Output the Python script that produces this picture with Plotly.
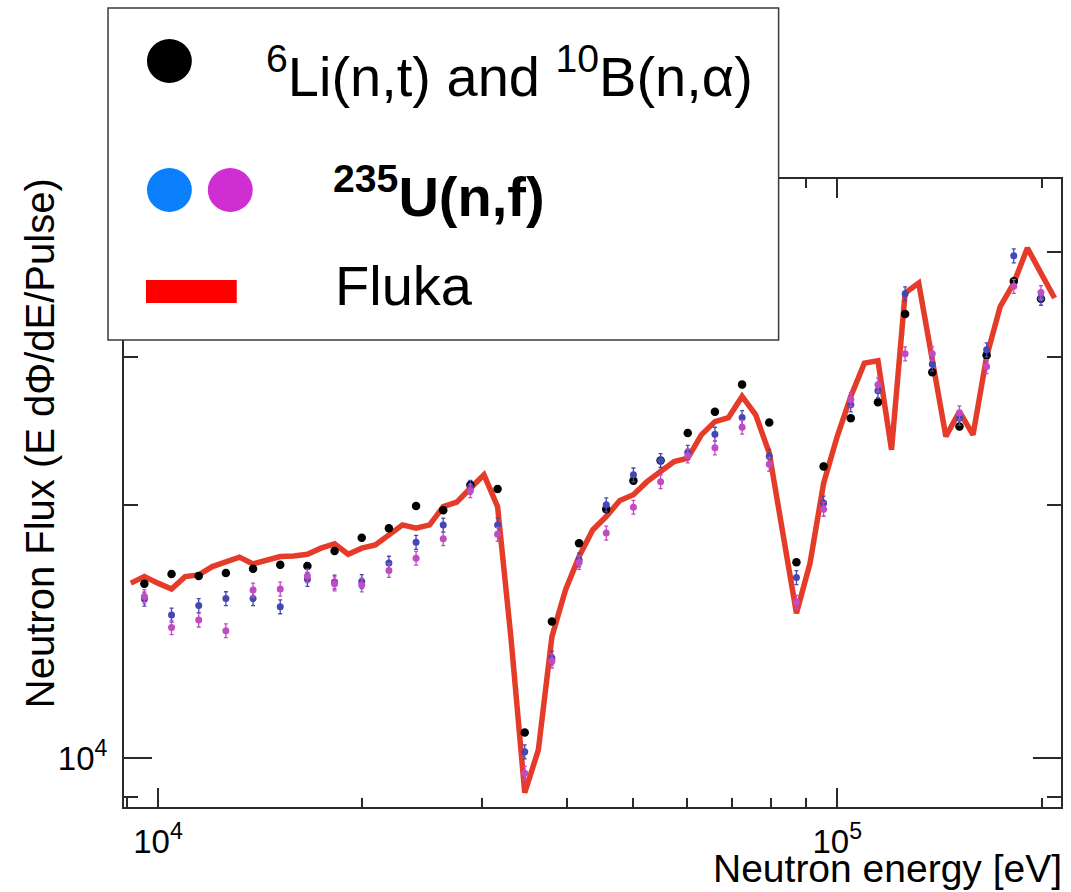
import plotly.graph_objects as go

# ---- measured flux, 25 bins per decade (bin centres in eV) ----
energy_bins = [9550, 10471, 11482, 12589, 13804, 15136, 16596, 18197, 19953, 21878,
               23988, 26303, 28840, 31623, 34674, 38019, 41687, 45709, 50119, 54954,
               60256, 66069, 72444, 79433, 87096, 95499, 104713, 114815, 125893, 138038,
               151356, 165959, 181970, 199526]

flux_li_b = [16120, 16560, 16470, 16600, 16800, 16980, 16930, 17640, 18290, 18770,
             19950, 19720, 21130, 20900, 10730, 14540, 18010, 19770, 21380, 22590,
             24360, 25810, 27810, 25070, 17100, 22230, 25360, 26500, 33730, 28760,
             24790, 30130, 36890, 35170]

flux_u235_a = [15460, 14800, 15190, 15480, 15480, 15140, 16320, 16200, 16220, 17060,
               18060, 18930, 21000, 18940, 10180, 13160, 17210, 20010, 21720, 22590,
               23110, 24280, 25410, 22860, 16400, 20110, 26310, 27340, 35650, 29410,
               25360, 30580, 39560, 35220]

flux_u235_b = [15570, 14300, 14600, 14180, 15850, 15890, 16470, 16120, 16070, 16720,
               17290, 18240, 20800, 18460, 9600, 13050, 17090, 18520, 19880, 21320,
               22880, 23390, 24750, 22360, 15330, 19770, 26690, 27790, 30250, 30250,
               25740, 29210, 36390, 35780]

# relative uncertainties (percent)
err_li_b_pct = 0.8
err_u235_pct = 1.9

# ---- FLUKA simulation, 50 points per decade ----
fluka_energy = [9120, 9550, 10000, 10471, 10965, 11482, 12023, 12589, 13183, 13804,
                14454, 15136, 15849, 16596, 17378, 18197, 19055, 19953, 20893, 21878,
                22909, 23988, 25119, 26303, 27542, 28840, 30200, 31623, 33113, 34674,
                36308, 38019, 39811, 41687, 43652, 45709, 47863, 50119, 52481, 54954,
                57544, 60256, 63096, 66069, 69183, 72444, 75858, 79433, 83176, 87096,
                91201, 95499, 100000, 104713, 109648, 114815, 120226, 125893, 131826, 138038,
                144544, 151356, 158489, 165959, 173780, 181970, 190546, 199526, 208930]

fluka_flux = [16150, 16440, 16150, 15890, 16440, 16520, 16900, 17130, 17340, 17020,
              17180, 17370, 17400, 17480, 17770, 17980, 17480, 17770, 17930, 18430,
              18940, 18770, 18940, 19910, 20160, 20940, 21720, 19910, 13820, 9100,
              10230, 13950, 15850, 17370, 18680, 19380, 20250, 20570, 21320, 21920,
              22530, 22740, 24230, 25130, 25410, 26920, 25600, 23050, 18680, 14870,
              17060, 21230, 24120, 26920, 29490, 29680, 23260, 35720, 36710, 29490,
              24120, 25830, 24230, 30030, 34430, 36710, 40410, 37730, 35240]

# axis ticks
x_major = [1e4, 1e5]
x_major_text = ["10<sup>4</sup>", "10<sup>5</sup>"]
x_minor = [9000, 20000, 30000, 40000, 50000, 60000, 70000, 80000, 90000, 200000]
y_major = [1e4]
y_major_text = ["10<sup>4</sup>"]
y_minor = [9000, 20000, 30000, 40000]

# legend labels
legend_li_b = "<sup>6</sup>Li(n,t) and <sup>10</sup>B(n,α)"
legend_u235 = "<b><sup>235</sup>U(n,f)</b>"
legend_fluka = "Fluka"

BLACK = "#000000"
BLUE = "#4348b4"
MAGENTA = "#c24bc4"
RED = "#e43c28"
FONT = "Liberation Sans, Arial, sans-serif"

W_FIG, H_FIG = 1071, 892
ML, MR, MT, MB = 124, 8, 179, 85
PW = W_FIG - ML - MR
PH = H_FIG - MT - MB


def px(x):
    return (x - ML) / PW


def py(y):
    return (MT + PH - y) / PH


fig = go.Figure()

fig.add_trace(go.Scatter(
    x=fluka_energy, y=fluka_flux, mode="lines",
    line=dict(color=RED, width=5.5), showlegend=False, hoverinfo="skip"))

fig.add_trace(go.Scatter(
    x=energy_bins, y=flux_li_b, mode="markers",
    marker=dict(color=BLACK, size=8.5),
    error_y=dict(type="percent", value=err_li_b_pct, color=BLACK, thickness=1.3, width=2),
    showlegend=False))

fig.add_trace(go.Scatter(
    x=energy_bins, y=flux_u235_a, mode="markers",
    marker=dict(color=BLUE, size=7),
    error_y=dict(type="percent", value=err_u235_pct, color=BLUE, thickness=1.3, width=2),
    showlegend=False))

fig.add_trace(go.Scatter(
    x=energy_bins, y=flux_u235_b, mode="markers",
    marker=dict(color=MAGENTA, size=7),
    error_y=dict(type="percent", value=err_u235_pct, color=MAGENTA, thickness=1.3, width=2),
    showlegend=False))

axis_common = dict(
    type="log", showgrid=False, zeroline=False,
    showline=True, linecolor="#2a2a2a", linewidth=2, mirror="ticks",
    ticks="inside", tickcolor="#2a2a2a", tickwidth=1.5,
    tickfont=dict(family=FONT, size=33, color="#000"),
)

fig.update_xaxes(
    **axis_common, range=[3.950, 5.3295],
    tickmode="array", tickvals=x_major, ticktext=x_major_text, ticklen=19,
    ticklabelstandoff=4,
    minor=dict(tickmode="array", tickvals=x_minor, ticks="inside", ticklen=9,
               tickcolor="#2a2a2a", tickwidth=1.5),
)
fig.update_yaxes(
    **axis_common, range=[3.9421, 4.6885],
    tickmode="array", tickvals=y_major, ticktext=y_major_text, ticklen=28,
    ticklabelstandoff=8,
    minor=dict(tickmode="array", tickvals=y_minor, ticks="inside", ticklen=14,
               tickcolor="#2a2a2a", tickwidth=1.5),
)

annotations = [
    dict(text="Neutron energy [eV]", x=px(1066), y=py(868), xanchor="right", yanchor="middle",
         font=dict(family=FONT, size=39, color="#000")),
    dict(text="Neutron Flux (E dΦ/dE/Pulse)", x=px(40), y=py(443), xanchor="center",
         yanchor="middle", textangle=-90, font=dict(family=FONT, size=40, color="#000")),
    dict(text=legend_li_b, x=px(264), y=py(72), xanchor="left", yanchor="middle",
         font=dict(family=FONT, size=56, color="#000")),
    dict(text=legend_u235, x=px(331), y=py(192), xanchor="left", yanchor="middle",
         font=dict(family=FONT, size=56, color="#000")),
    dict(text=legend_fluka, x=px(333), y=py(285), xanchor="left", yanchor="middle",
         font=dict(family=FONT, size=56, color="#000")),
]
for a in annotations:
    a.update(xref="paper", yref="paper", showarrow=False)

shapes = [
    # legend frame
    dict(type="rect", x0=px(108), x1=px(780), y0=py(8), y1=py(340),
         line=dict(color="#3a3a3a", width=1.5), fillcolor="white", layer="above"),
    # legend symbols
    dict(type="circle", x0=px(147), x1=px(192), y0=py(39), y1=py(83),
         line=dict(width=0), fillcolor="#000000", layer="above"),
    dict(type="circle", x0=px(147), x1=px(192), y0=py(168), y1=py(212),
         line=dict(width=0), fillcolor="#0a80ff", layer="above"),
    dict(type="circle", x0=px(208), x1=px(253), y0=py(168), y1=py(212),
         line=dict(width=0), fillcolor="#cf2ed2", layer="above"),
    dict(type="rect", x0=px(146), x1=px(237), y0=py(280), y1=py(303),
         line=dict(width=0), fillcolor="#ff0000", layer="above"),
]
for s in shapes:
    s.update(xref="paper", yref="paper")

fig.update_layout(
    width=W_FIG, height=H_FIG,
    margin=dict(l=ML, r=MR, t=MT, b=MB, pad=0),
    paper_bgcolor="white", plot_bgcolor="white",
    showlegend=False,
    annotations=annotations, shapes=shapes,
    font=dict(family=FONT),
)

fig.write_html("out.html")
